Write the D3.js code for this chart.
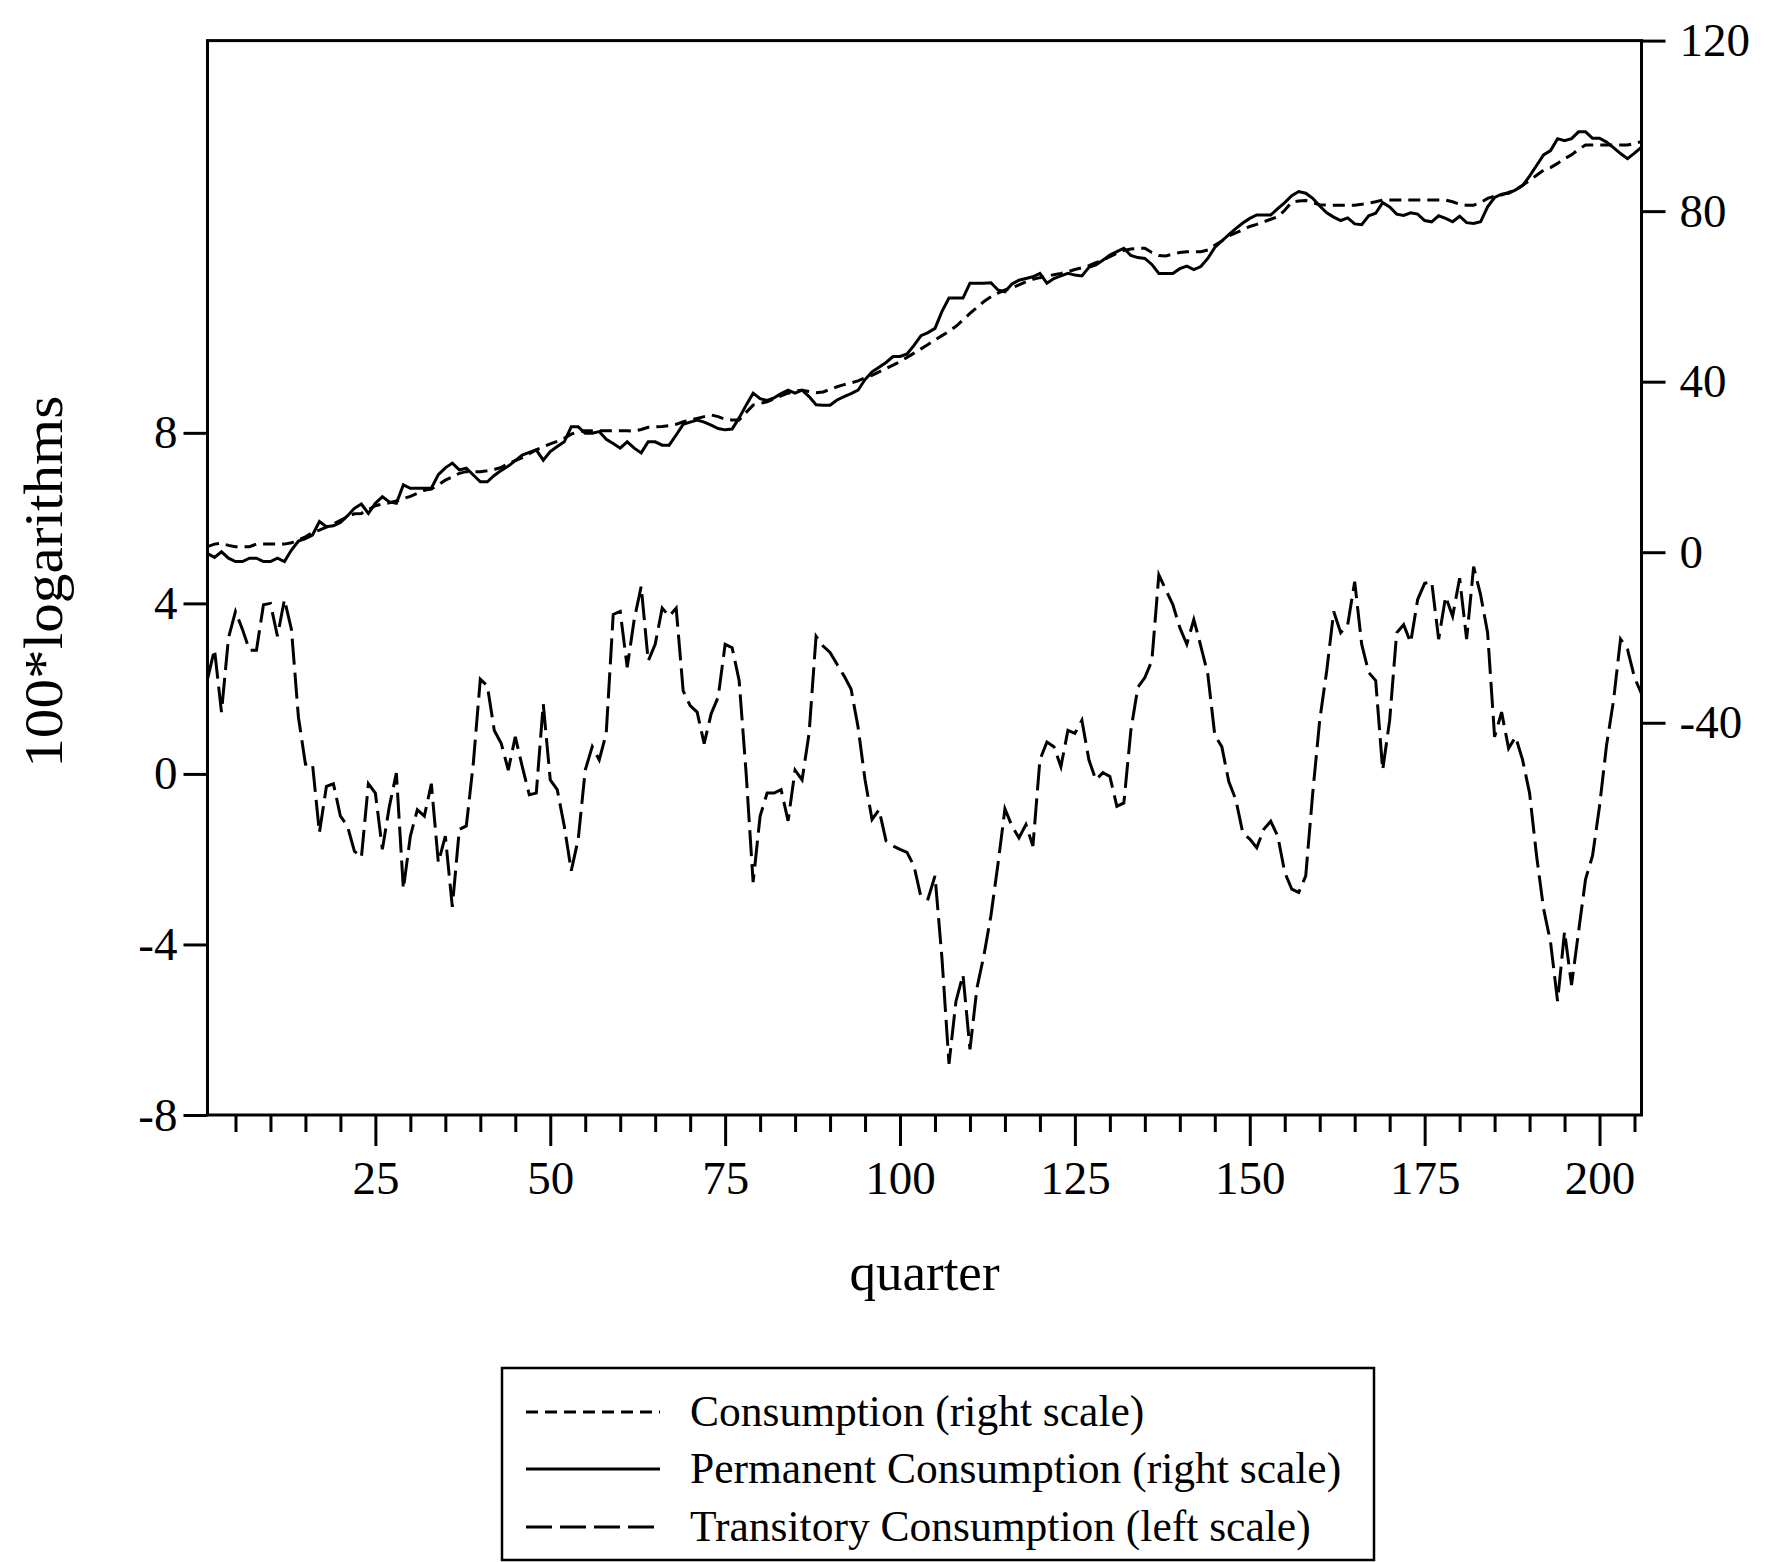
<!DOCTYPE html>
<html>
<head>
<meta charset="utf-8">
<script src="https://cdn.jsdelivr.net/npm/d3@7"></script>
<style>
  html, body { margin: 0; padding: 0; background: #ffffff; }
  svg { display: block; }
  text { font-family: "Liberation Serif", "Times New Roman", "DejaVu Serif", serif; fill: #000; }
</style>
</head>
<body>
<svg id="chart" width="1769" height="1562"></svg>
<script>
// ---------------- DATA ----------------
// quarter index runs 1..206
const transitory = [
  2.22, 2.92, 1.45, 3.19, 3.81, 3.39, 2.9, 2.9, 3.97, 4.0,
  3.23, 4.09, 3.39, 1.33, 0.23, 0.25, -1.38, -0.29, -0.23, -0.99,
  -1.22, -1.81, -1.96, -0.23, -0.45, -1.77, -0.76, 0.02, -2.7, -1.46,
  -0.84, -0.99, -0.23, -2.08, -1.46, -3.12, -1.3, -1.22, 0.25, 2.22,
  2.07, 1.02, 0.71, 0.09, 0.87, 0.17, -0.49, -0.45, 1.64, -0.14,
  -0.37, -1.22, -2.27, -1.53, 0.09, 0.64, 0.33, 0.95, 3.74, 3.81,
  2.5, 3.62, 4.4, 2.65, 3.04, 3.89, 3.7, 3.89, 1.95, 1.6,
  1.45, 0.71, 1.41, 1.8, 3.04, 2.96, 2.19, 0.02, -2.54, -0.99,
  -0.45, -0.45, -0.37, -1.1, 0.09, -0.14, 0.95, 3.23, 3.0, 2.85,
  2.57, 2.3, 1.99, 1.1, -0.14, -1.07, -0.84, -1.57, -1.69, -1.77,
  -1.84, -2.16, -2.89, -2.93, -2.39, -4.33, -6.8, -5.33, -4.71, -6.46,
  -5.02, -4.25, -3.32, -2.12, -0.82, -1.22, -1.5, -1.19, -1.69, 0.33,
  0.75, 0.64, 0.17, 1.02, 0.95, 1.26, 0.33, -0.14, 0.03, -0.06,
  -0.76, -0.68, 1.02, 2.03, 2.26, 2.65, 4.67, 4.32, 3.97, 3.43,
  3.04, 3.62, 3.0, 2.34, 0.91, 0.64, -0.18, -0.6, -1.38, -1.53,
  -1.73, -1.3, -1.11, -1.46, -2.31, -2.7, -2.78, -2.39, -0.45, 1.26,
  2.42, 3.81, 3.31, 3.5, 4.51, 3.04, 2.38, 2.19, 0.09, 1.26,
  3.31, 3.5, 3.08, 4.09, 4.47, 4.51, 3.16, 4.16, 3.7, 4.59,
  3.16, 4.86, 4.2, 3.31, 0.87, 1.45, 0.6, 0.87, 0.33, -0.45,
  -1.92, -3.16, -3.95, -5.33, -3.7, -4.95, -3.7, -2.47, -1.92, -0.76,
  0.67, 1.72, 3.16, 2.92, 2.26, 1.88
];

const consumption = [
  1.3, 1.9, 2.1, 1.6, 1.3, 1.3, 1.3, 1.9, 1.9, 1.9,
  1.9, 1.9, 2.2, 2.9, 3.6, 4.6, 5.2, 5.9, 6.6, 7.5,
  8.3, 9.0, 9.1, 10.0, 10.9, 11.3, 11.6, 12.0, 12.6, 13.1,
  13.8, 14.5, 14.8, 15.8, 16.9, 17.7, 18.5, 18.9, 18.9, 18.9,
  19.1, 19.4, 19.9, 20.8, 21.5, 22.2, 23.1, 24.0, 24.7, 25.4,
  26.0, 26.7, 27.7, 28.3, 28.5, 28.5, 28.5, 28.5, 28.5, 28.5,
  28.5, 28.4, 28.8, 29.3, 29.4, 29.5, 29.7, 30.0, 30.6, 31.0,
  31.4, 31.8, 32.2, 31.8, 31.2, 31.0, 31.0, 32.8, 34.5, 34.9,
  35.3, 36.0, 36.7, 37.3, 37.8, 38.0, 37.7, 37.4, 37.6, 38.2,
  38.8, 39.3, 39.7, 40.2, 40.9, 41.5, 42.3, 43.1, 43.9, 44.7,
  45.7, 46.7, 47.7, 48.7, 49.8, 50.8, 51.8, 53.0, 54.5, 56.0,
  57.4, 58.8, 59.9, 60.8, 61.5, 62.0, 62.7, 63.4, 64.0, 64.4,
  64.7, 65.1, 65.4, 65.8, 66.3, 66.7, 67.2, 67.9, 68.5, 69.3,
  70.1, 70.8, 71.1, 71.3, 71.3, 70.3, 69.6, 69.5, 69.9, 70.3,
  70.5, 70.5, 70.5, 70.9, 72.0, 73.0, 74.2, 74.9, 75.6, 76.4,
  76.9, 77.5, 78.1, 78.7, 80.2, 82.1, 82.4, 82.5, 82.0, 81.5,
  81.4, 81.4, 81.4, 81.4, 81.4, 81.6, 81.9, 82.2, 82.6, 82.6,
  82.6, 82.6, 82.6, 82.6, 82.6, 82.6, 82.6, 82.6, 82.2, 81.6,
  81.4, 81.4, 82.0, 83.0, 83.5, 83.8, 84.4, 85.0, 86.1, 87.2,
  88.4, 89.6, 90.2, 91.2, 92.3, 93.2, 94.5, 95.5, 95.5, 95.5,
  95.5, 95.5, 95.5, 95.5, 95.9, 96.3
];

const permanent = [
  -0.3, -1.2, 0.1, -1.4, -2.2, -2.2, -1.4, -1.4, -2.2, -2.2,
  -1.4, -2.2, 0.5, 2.6, 3.2, 4.0, 7.2, 6.0, 6.2, 7.0,
  8.5, 10.3, 11.3, 9.1, 11.5, 13.0, 11.8, 11.5, 15.8, 15.0,
  15.0, 15.0, 15.0, 18.2, 19.8, 20.9, 19.3, 19.7, 18.1, 16.5,
  16.5, 18.0, 19.2, 20.2, 21.5, 22.8, 23.4, 24.0, 21.6, 23.6,
  24.8, 25.9, 29.4, 29.4, 27.9, 27.9, 28.3, 26.5, 25.5, 24.4,
  25.9, 24.4, 23.3, 25.9, 25.9, 25.1, 25.1, 27.5, 30.0, 30.5,
  31.0, 30.5, 29.8, 29.0, 28.7, 28.9, 31.5, 34.5, 37.3, 36.0,
  35.6, 36.2, 37.2, 38.0, 37.3, 38.0, 36.5, 34.6, 34.5, 34.5,
  35.7, 36.5, 37.2, 38.0, 40.5, 42.3, 43.4, 44.5, 45.9, 45.9,
  46.5, 48.5, 50.8, 51.5, 52.5, 56.5, 59.6, 59.6, 59.6, 63.1,
  63.1, 63.1, 63.2, 61.5, 61.1, 62.9, 63.8, 64.2, 64.6, 65.4,
  63.1, 64.2, 64.8, 65.4, 65.0, 64.8, 66.8, 67.4, 68.5, 69.7,
  70.5, 71.3, 69.6, 69.1, 68.9, 67.5, 65.4, 65.4, 65.4, 66.5,
  67.1, 66.3, 67.0, 68.9, 71.5, 73.0, 74.5, 75.9, 77.2, 78.3,
  79.1, 79.1, 79.1, 80.6, 82.0, 83.6, 84.6, 84.2, 83.0, 81.2,
  79.6, 78.6, 77.8, 78.4, 77.0, 76.8, 78.9, 79.5, 82.0, 81.0,
  79.3, 79.0, 79.6, 79.3, 77.8, 77.5, 78.9, 78.3, 77.5, 78.8,
  77.3, 77.1, 77.5, 81.0, 83.2, 84.0, 84.2, 85.0, 86.0, 88.2,
  90.7, 93.2, 94.2, 97.0, 96.5, 97.0, 98.6, 98.6, 97.1, 97.1,
  96.2, 94.9, 93.5, 92.3, 93.6, 95.0
];

const leftTicks = [-8, -4, 0, 4, 8];
const rightTicks = [-40, 0, 40, 80, 120];
const xMajorTicks = [25, 50, 75, 100, 125, 150, 175, 200];
const xMinorTicks = [5, 10, 15, 20, 30, 35, 40, 45, 55, 60, 65, 70, 80, 85, 90, 95,
  105, 110, 115, 120, 130, 135, 140, 145, 155, 160, 165, 170, 180, 185, 190, 195, 205];
const xLabel = "quarter";
const yLabel = "100*logarithms";
const legendLabels = [
  "Consumption (right scale)",
  "Permanent Consumption (right scale)",
  "Transitory Consumption (left scale)"
];

// ---------------- LAYOUT ----------------
const svg = d3.select("#chart");
const plot = { left: 207.5, right: 1641.5, top: 40.6, bottom: 1115 };

const x = d3.scaleLinear().domain([1, 206]).range([plot.left, plot.right]);
const yL = d3.scaleLinear().domain([-8, 17.2]).range([plot.bottom, plot.top]);
const yR = d3.scaleLinear().domain([-132, 120]).range([plot.bottom, plot.top]);

const FONT_TICK = 47;
const STROKE = 3;
const fmt = d => String(d);   // plain hyphen minus, as in the original

svg.append("rect").attr("width", 1769).attr("height", 1562).attr("fill", "#fff");

// clip
svg.append("clipPath").attr("id", "clip")
  .append("rect").attr("x", plot.left).attr("y", plot.top)
  .attr("width", plot.right - plot.left).attr("height", plot.bottom - plot.top);

// series
const lineL = d3.line().x((d, i) => x(i + 1)).y(d => yL(d));
const lineR = d3.line().x((d, i) => x(i + 1)).y(d => yR(d));

const g = svg.append("g").attr("clip-path", "url(#clip)");
g.append("path").datum(transitory).attr("d", lineL)
  .attr("fill", "none").attr("stroke", "#000").attr("stroke-width", STROKE)
  .attr("stroke-dasharray", "26,8");
g.append("path").datum(consumption).attr("d", lineR)
  .attr("fill", "none").attr("stroke", "#000").attr("stroke-width", STROKE)
  .attr("stroke-dasharray", "12,7");
g.append("path").datum(permanent).attr("d", lineR)
  .attr("fill", "none").attr("stroke", "#000").attr("stroke-width", STROKE)
  .attr("stroke-linejoin", "miter");

// axes
function styleAxis(sel) {
  sel.select(".domain").remove();
  sel.selectAll(".tick line").attr("stroke", "#000").attr("stroke-width", STROKE);
  sel.selectAll(".tick text").attr("font-size", FONT_TICK)
    .attr("font-family", '"Liberation Serif", "Times New Roman", serif').attr("fill", "#000");
}

svg.append("g").attr("transform", `translate(${plot.left},0)`)
  .call(d3.axisLeft(yL).tickValues(leftTicks).tickSize(24).tickPadding(6).tickFormat(fmt))
  .call(styleAxis);

svg.append("g").attr("transform", `translate(${plot.right},0)`)
  .call(d3.axisRight(yR).tickValues(rightTicks).tickSize(24).tickPadding(14).tickFormat(fmt))
  .call(styleAxis);

svg.append("g").attr("transform", `translate(0,${plot.bottom})`)
  .call(d3.axisBottom(x).tickValues(xMajorTicks).tickSize(31).tickPadding(15).tickFormat(fmt))
  .call(styleAxis);

svg.append("g").attr("transform", `translate(0,${plot.bottom})`)
  .call(d3.axisBottom(x).tickValues(xMinorTicks).tickSize(17).tickFormat(""))
  .call(styleAxis);

// frame
svg.append("rect")
  .attr("x", plot.left).attr("y", plot.top)
  .attr("width", plot.right - plot.left).attr("height", plot.bottom - plot.top)
  .attr("fill", "none").attr("stroke", "#000").attr("stroke-width", STROKE);

// axis titles
svg.append("text").text(xLabel)
  .attr("x", (plot.left + plot.right) / 2).attr("y", 1290)
  .attr("text-anchor", "middle").attr("font-size", 53);

svg.append("text").text(yLabel)
  .attr("transform", `translate(62,${(plot.top + plot.bottom) / 2 + 4}) rotate(-90)`)
  .attr("text-anchor", "middle").attr("font-size", 54)
  .attr("textLength", 372).attr("lengthAdjust", "spacingAndGlyphs");

// legend
const legend = svg.append("g");
legend.append("rect")
  .attr("x", 502).attr("y", 1368).attr("width", 872).attr("height", 192)
  .attr("fill", "#fff").attr("stroke", "#000").attr("stroke-width", 2.5);

const legendDash = ["12,7", null, "26,8"];
const rowY = [1412, 1469, 1527];
legendLabels.forEach((lab, i) => {
  const l = legend.append("line")
    .attr("x1", 526).attr("x2", 660).attr("y1", rowY[i]).attr("y2", rowY[i])
    .attr("stroke", "#000").attr("stroke-width", STROKE);
  if (legendDash[i]) l.attr("stroke-dasharray", legendDash[i]);
  legend.append("text").text(lab)
    .attr("x", 690).attr("y", rowY[i]).attr("dy", "0.33em")
    .attr("font-size", 43.5);
});
</script>
</body>
</html>
